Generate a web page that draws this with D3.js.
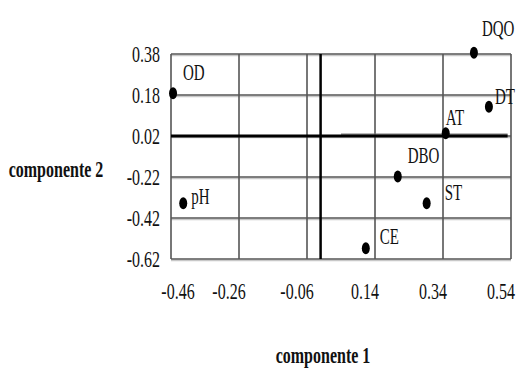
<!DOCTYPE html>
<html><head><meta charset="utf-8">
<script src="https://cdn.jsdelivr.net/npm/d3@7"></script>
<style>body{margin:0;background:#fff}svg{display:block}</style>
</head><body>
<script>
// ---- data ----
const variables = ["OD","DQO","DT","AT","DBO","ST","CE","pH"];
const comp1 = [-0.454, 0.431, 0.475, 0.348, 0.207, 0.292, 0.113, -0.424];
const comp2 = [0.188, 0.386, 0.123, -0.007, -0.218, -0.348, -0.568, -0.348];
const xTickValues = [-0.46, -0.26, -0.06, 0.14, 0.34, 0.54];
const xTickLabels = ["-0.46","-0.26","-0.06","0.14","0.34","0.54"];
const yTickValues = [0.38, 0.18, -0.02, -0.22, -0.42, -0.62];
const yTickLabels = ["0.38","0.18","0.02","-0.22","-0.42","-0.62"];
const axisCross = [-0.02, -0.02];
const xTitle = "componente 1", yTitle = "componente 2";

// ---- layout/style ----
const W = 518, H = 370;
const m = {left:171, top:54, right:7, bottom:111};
const SY = 1.5;
const labelOffsets = {OD:[10,-13],DQO:[8,-17],DT:[6,-3],AT:[0,-8],DBO:[10,-14],ST:[18,-3],CE:[14,-4],pH:[8,1]};

const svg = d3.select("body").append("svg").attr("width",W).attr("height",H);
const x = d3.scaleLinear().domain([-0.46,0.54]).range([m.left, W-m.right]);
const y = d3.scaleLinear().domain([-0.62,0.38]).range([H-m.bottom, m.top]);

function txt(px, py, s, size, anchor, weight){
  return svg.append("text")
    .attr("transform", `translate(${px},${py}) scale(1,${SY})`)
    .attr("text-anchor", anchor||"start")
    .style("font-family","'Liberation Serif','Times New Roman',serif")
    .style("font-size", size+"px")
    .style("font-weight", weight||"normal")
    .attr("fill","#111")
    .text(s);
}

// grid with soft shadow
const g = svg.append("g");
yTickValues.forEach(v=>{
  g.append("line").attr("x1",x(-0.46)).attr("x2",x(0.54)).attr("y1",y(v)+1.5).attr("y2",y(v)+1.5)
    .attr("stroke","#c8c8c8").attr("stroke-width",1.5);
  g.append("line").attr("x1",x(-0.46)).attr("x2",x(0.54)).attr("y1",y(v)).attr("y2",y(v))
    .attr("stroke","#555").attr("stroke-width",1.6);
});
xTickValues.forEach(v=>{
  g.append("line").attr("x1",x(v)).attr("x2",x(v)).attr("y1",y(0.38)).attr("y2",y(-0.62))
    .attr("stroke","#555").attr("stroke-width",1.6);
});

// axis cross lines
g.append("line").attr("x1",x(0.04)).attr("x2",x(0.53)).attr("y1",y(axisCross[1])-1.8).attr("y2",y(axisCross[1])-1.8)
  .attr("stroke","#777").attr("stroke-width",1.2);
g.append("line").attr("x1",x(-0.46)).attr("x2",x(0.53)).attr("y1",y(axisCross[1])).attr("y2",y(axisCross[1]))
  .attr("stroke","#000").attr("stroke-width",3);
g.append("line").attr("x1",x(axisCross[0])).attr("x2",x(axisCross[0])).attr("y1",y(0.38)).attr("y2",y(-0.62))
  .attr("stroke","#000").attr("stroke-width",2.5);

// tick labels
xTickValues.forEach((v,i)=>{
  txt(x(v) + (i===0 ? 7 : -10), 299, xTickLabels[i], 16, "middle");
});
yTickValues.forEach((v,i)=>{
  txt(m.left-11, y(v)+8, yTickLabels[i], 16, "end");
});

// points
variables.forEach((name,i)=>{
  svg.append("ellipse").attr("cx",x(comp1[i])).attr("cy",y(comp2[i]))
    .attr("rx",4).attr("ry",6).attr("fill","#000");
  const o = labelOffsets[name];
  txt(x(comp1[i])+o[0], y(comp2[i])+o[1], name, 15, "start");
});

// titles
txt(56, 177, yTitle, 16, "middle", "bold");
txt(323, 363, xTitle, 16, "middle", "bold");
</script>
</body></html>
